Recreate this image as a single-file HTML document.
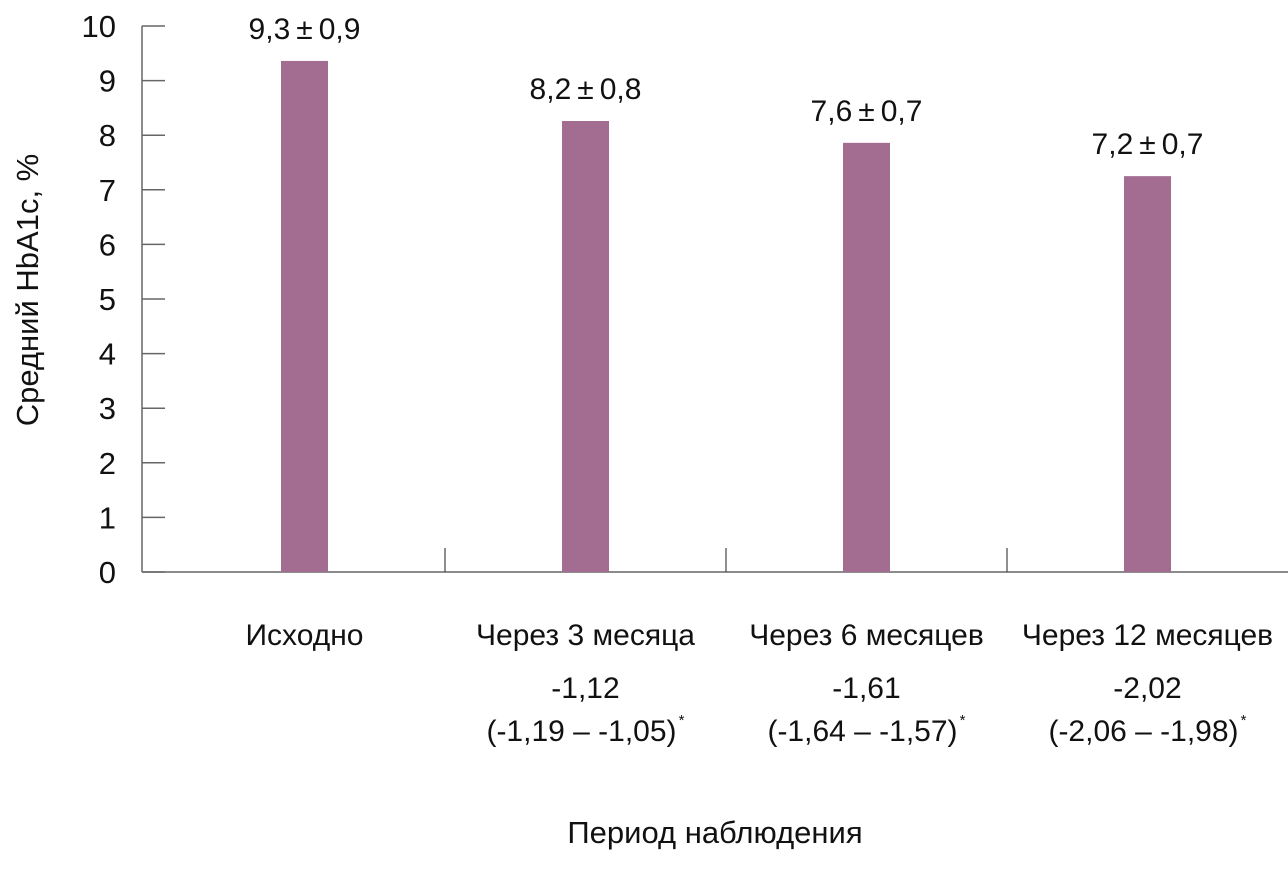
<!DOCTYPE html>
<html><head><meta charset="utf-8"><style>
html,body{margin:0;padding:0;background:#fff;}
svg{display:block;font-family:"Liberation Sans","DejaVu Sans",sans-serif;}
</style></head><body>
<svg id="chart" width="1288" height="871" viewBox="0 0 1288 871"></svg>
<script>
const categories = ["Исходно","Через 3 месяца","Через 6 месяцев","Через 12 месяцев"];
const values = [9.36, 8.26, 7.86, 7.25];
const valueLabels = ["9,3\u2009\u00B1\u20090,9","8,2\u2009\u00B1\u20090,8","7,6\u2009\u00B1\u20090,7","7,2\u2009\u00B1\u20090,7"];
const changeLabels = ["","-1,12","-1,61","-2,02"];
const ciLabels = ["","(-1,19 – -1,05)","(-1,64 – -1,57)","(-2,06 – -1,98)"];
const yTicks = [0,1,2,3,4,5,6,7,8,9,10];

const svg = document.getElementById('chart');
const NS = 'http://www.w3.org/2000/svg';
const x0 = 142, x1 = 1288, yBase = 572, yTop = 26;
const catStart = 164, catW = 281, barW = 47;
const y = v => yBase - (v / 10) * (yBase - yTop);
const cx = i => catStart + catW * i + catW / 2;
function mk(tag, attrs, text){
  const e = document.createElementNS(NS, tag);
  for (const k in attrs) e.setAttribute(k, attrs[k]);
  if (text !== undefined) e.textContent = text;
  svg.appendChild(e);
  return e;
}
let ax = mk('line',{x1:x0,y1:yTop,x2:x0,y2:yBase,stroke:'#666','stroke-width':1.5});


yTicks.forEach(t=>{
  const l = mk('line',{x1:x0,y1:y(t),x2:x0+23,y2:y(t),stroke:'#666','stroke-width':1.5});
  
  
  const tx = mk('text',{x:116,y:y(t)+11,'text-anchor':'end','font-size':31,fill:'#111'},String(t));
  
  
});
let xa = mk('line',{x1:x0,y1:yBase,x2:x1,y2:yBase,stroke:'#666','stroke-width':1.5});


for (let i=1;i<categories.length;i++){
  const xs = catStart + catW*i;
  const s = mk('line',{x1:xs,y1:yBase-24,x2:xs,y2:yBase,stroke:'#444','stroke-width':1.2});
  
  
}
categories.forEach((c,i)=>{
  const b = mk('rect',{x:cx(i)-barW/2,y:y(values[i]),width:barW,height:yBase-y(values[i]),fill:'#a36d91'});
  
  
  const vl = mk('text',{x:cx(i),y:y(values[i])-22,'text-anchor':'middle','font-size':30,fill:'#111'},valueLabels[i]);
  
  
  const cl = mk('text',{x:cx(i),y:645,'text-anchor':'middle','font-size':30,fill:'#111'},c);
  
  
  if (changeLabels[i]){
    const ch = mk('text',{x:cx(i),y:698,'text-anchor':'middle','font-size':30,fill:'#111'},changeLabels[i]);
    
    
    const ci = mk('text',{x:cx(i)-4,y:741,'text-anchor':'middle','font-size':30,fill:'#111'},ciLabels[i]);
    
    
    const st = mk('text',{x:cx(i)-4+ci.getComputedTextLength()/2+5,y:725,'text-anchor':'middle','font-size':15,fill:'#111'},'*');
    
    
  }
});
const xt = mk('text',{x:715,y:843,'text-anchor':'middle','font-size':31,fill:'#111'},'Период наблюдения');


const yt = mk('text',{x:0,y:0,'text-anchor':'middle','font-size':31,fill:'#111',transform:'translate(38,290) rotate(-90)'},'Средний HbA1c, %');


</script>
</body></html>
